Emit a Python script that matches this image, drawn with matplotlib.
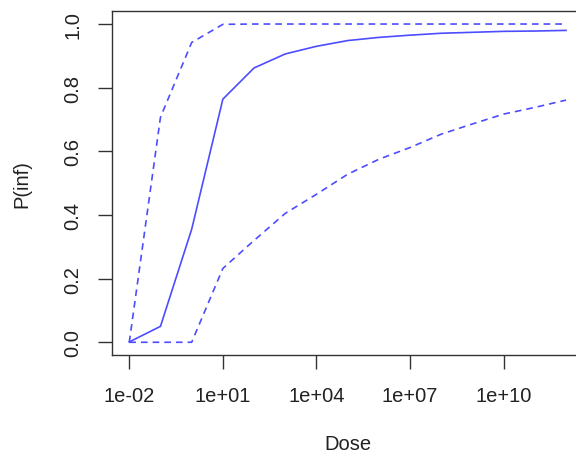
import numpy as np
import matplotlib
matplotlib.use("Agg")
import matplotlib.pyplot as plt

plt.rcParams['font.family'] = ['Liberation Sans', 'DejaVu Sans']

# Dose grid (log10 exponents) and infection probability estimates
dose_exp = [-2, -1, 0, 1, 2, 3, 4, 5, 6, 7, 8, 9, 10, 11, 12]
p_mean = [0.001, 0.050, 0.355, 0.764, 0.862, 0.906, 0.930, 0.948, 0.958,
          0.965, 0.971, 0.974, 0.977, 0.978, 0.980]
p_upper = [0.0, 0.707, 0.942, 0.999, 1.0, 1.0, 1.0, 1.0, 1.0,
           1.0, 1.0, 1.0, 1.0, 1.0, 1.0]
p_lower = [0.0, 0.0, 0.0, 0.232, 0.320, 0.405, 0.465, 0.528, 0.575,
           0.612, 0.654, 0.686, 0.717, 0.738, 0.761]

xtick_exp = [-2, 1, 4, 7, 10]
xtick_labels = ["1e-02", "1e+01", "1e+04", "1e+07", "1e+10"]
ytick_vals = [0.0, 0.2, 0.4, 0.6, 0.8, 1.0]

dose = 10.0 ** np.array(dose_exp, dtype=float)

W, H = 576, 456
fig = plt.figure(figsize=(W / 100, H / 100), dpi=100)
left, right, top, bottom = 111.8, 583.5, 12.3, 356.0
ax = fig.add_axes([left / W, 1 - bottom / H, (right - left) / W, (bottom - top) / H])

col = '#4d4dff'
ax.plot(dose, p_mean, color=col, lw=1.2, solid_joinstyle='miter')
ax.plot(dose, p_upper, color=col, lw=1.2, ls=(0, (4, 3)))
ax.plot(dose, p_lower, color=col, lw=1.2, ls=(0, (4, 3)))

ax.set_xscale('log')
pad = 0.04 * 14
ax.set_xlim(10 ** (-2 - pad), 10 ** (12 + pad))
ax.set_ylim(-0.04, 1.04)
ax.set_xticks([10.0 ** e for e in xtick_exp])
ax.set_xticklabels(xtick_labels)
ax.xaxis.set_minor_locator(matplotlib.ticker.NullLocator())
ax.set_yticks(ytick_vals)
ax.set_yticklabels([f"{v:.1f}" for v in ytick_vals], rotation=90, va='center')

for s in ax.spines.values():
    s.set_color('#333333')
    s.set_linewidth(1.0)

ax.tick_params(axis='both', length=10, width=1.0, color='#333333',
               labelsize=14.5, labelcolor='#222222')
ax.tick_params(axis='x', pad=12)
ax.tick_params(axis='y', pad=11)

ax.set_xlabel("Dose", fontsize=14.5, color='#222222', labelpad=21)
ax.set_ylabel("P(inf)", fontsize=14.5, color='#222222', labelpad=23)

fig.savefig("out.png", dpi=100)
